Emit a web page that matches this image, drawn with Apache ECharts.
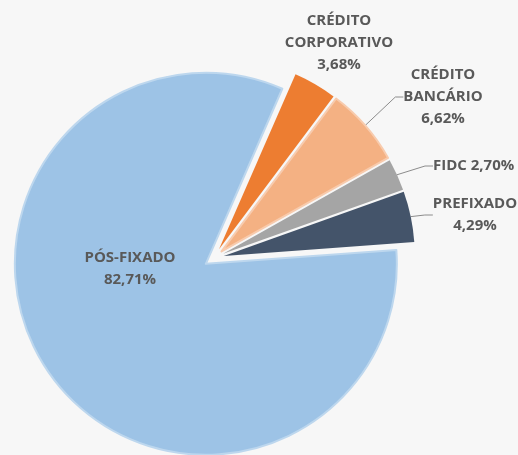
<!DOCTYPE html>
<html>
<head>
<meta charset="utf-8">
<script src="https://cdn.jsdelivr.net/npm/echarts@6/dist/echarts.min.js"></script>
<style>
  html, body { margin: 0; padding: 0; background: #f7f7f7; }
  #main { width: 518px; height: 455px; }
</style>
</head>
<body>
<div id="main"></div>
<script>
// composição da carteira (%), ordem horária a partir do topo
var names = ['CRÉDITO\nCORPORATIVO', 'CRÉDITO\nBANCÁRIO', 'FIDC', 'PREFIXADO', 'PÓS-FIXADO'];
var values = [3.68, 6.62, 2.70, 4.29, 82.71];
var labels = ['3,68%', '6,62%', '2,70%', '4,29%', '82,71%'];
var colors = ['#ED7D31', '#F4B183', '#A5A5A5', '#44546A', '#9DC3E6'];
var edgeColors = ['#ED7D31', '#F8CBAD', '#A5A5A5', '#44546A', '#BDD7EE'];

// onde fica cada rótulo (centro do bloco de texto)
var labelPos = [
  { x: 339, y: 43, align: 'center' },
  { x: 443, y: 97, align: 'center' },
  { x: 433, y: 166, align: 'left' },
  { x: 475, y: 215, align: 'center' },
  { x: 130, y: 269, align: 'center' }
];

var cx = 214, cy = 258, R = 191;
var startAngle = 66.4;   // graus, sentido anti-horário a partir das 3h
var explode = 10;        // afastamento de cada fatia

var myChart = echarts.init(document.getElementById('main'));

var total = 0;
values.forEach(function (v) { total += v; });

// uma série por fatia, deslocada na direção do meio da fatia (efeito "explodido")
var series = [];
var acc = 0;
for (var s = 0; s < values.length; s++) {
  var mid = (startAngle - 360 * (acc + values[s] / 2) / total) * Math.PI / 180;
  acc += values[s];
  var data = [];
  for (var i = 0; i < values.length; i++) {
    var own = i == s;
    data.push({
      name: names[i],
      value: values[i],
      itemStyle: own ? {
        color: colors[i],
        borderColor: edgeColors[i],
        borderWidth: (i == 1 || i == 4) ? 2 : 0
      } : { color: 'rgba(0,0,0,0)', borderWidth: 0 },
      label: { show: own, position: i == 4 ? 'inside' : 'outside' },
      labelLine: { show: own && (i == 1 || i == 2 || i == 3) }
    });
  }
  series.push({
    type: 'pie',
    center: [cx + explode * Math.cos(mid), cy - explode * Math.sin(mid)],
    radius: [0, R],
    startAngle: startAngle,
    clockwise: true,
    avoidLabelOverlap: false,
    silent: true,
    data: data,
    label: {
      color: '#595959',
      fontFamily: 'Open Sans',
      fontWeight: 'bold',
      fontSize: 15,
      lineHeight: 22,
      overflow: 'none',
      formatter: function (p) {
        if (p.dataIndex == 2) return p.name + ' ' + labels[p.dataIndex];
        return p.name + '\n' + labels[p.dataIndex];
      }
    },
    labelLine: {
      length: 10,
      length2: 8,
      lineStyle: { color: '#8c8c8c', width: 1 }
    },
    labelLayout: function (params) {
      var pos = labelPos[params.dataIndex];
      return {
        x: pos.x,
        y: pos.y,
        align: pos.align,
        verticalAlign: 'middle'
      };
    }
  });
}

myChart.setOption({
  backgroundColor: '#f7f7f7',
  animation: false,
  series: series
});
</script>
</body>
</html>
